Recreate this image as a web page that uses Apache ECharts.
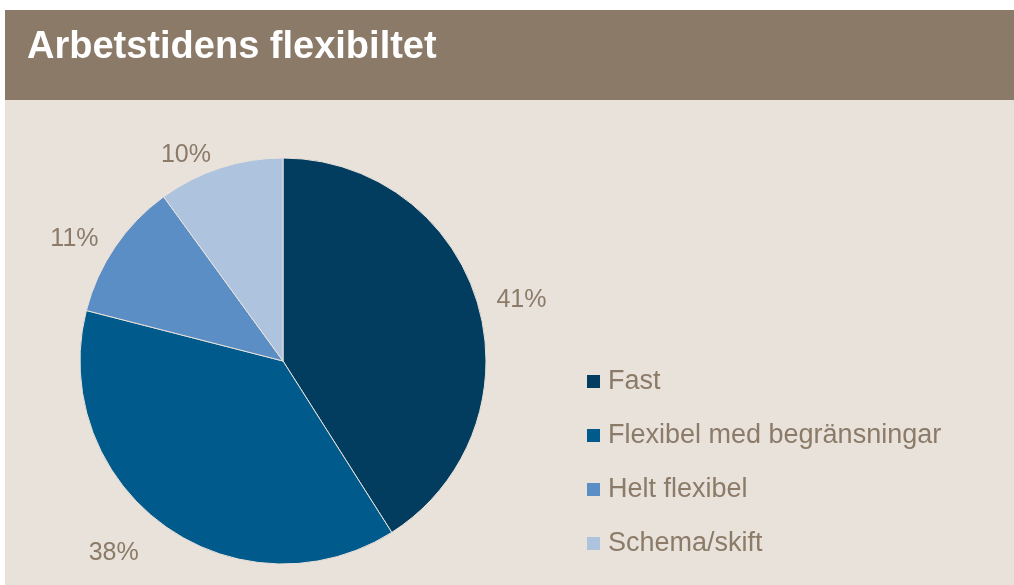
<!DOCTYPE html>
<html>
<head>
<meta http-equiv="Content-Type" content="text/html; charset=utf-8" />
<title>Arbetstidens flexibiltet</title>
<script src="https://cdn.jsdelivr.net/npm/echarts@6/dist/echarts.min.js"></script>
<style>
  html, body { margin: 0; padding: 0; background: #ffffff; }
  #chart { width: 1014px; height: 585px; }
</style>
</head>
<body>
<div id="chart"></div>
<script>
  // data
  var categories = ['Fast', 'Flexibel med begränsningar', 'Helt flexibel', 'Schema/skift'];
  var shares = [41, 38, 11, 10];
  var sliceColors = ['#023C5E', '#005A8C', '#5A8EC4', '#AEC4DE'];

  var textColor = '#8B7B68';

  var pieData = categories.map(function(name, i) {
    var item = { name: name, value: shares[i], itemStyle: { color: sliceColors[i] } };
    // the bottom label sits a bit further out in the original
    if (i === 1) {
      item.labelLine = { show: false, length: 34, length2: 0 };
    }
    return item;
  });

  var myChart = echarts.init(document.getElementById('chart'));

  var option = {
    animation: false,
    backgroundColor: '#ffffff',
    textStyle: { fontFamily: 'Liberation Sans, Arial, sans-serif' },
    graphic: [
      // beige panel
      { type: 'rect', left: 5, top: 100, z: -10, shape: { width: 1009, height: 485 }, style: { fill: '#E9E2DB' } },
      // header bar
      { type: 'rect', left: 5, top: 10, z: -10, shape: { width: 1009, height: 90 }, style: { fill: '#8A7A67' } }
    ],
    title: {
      text: 'Arbetstidens flexibiltet',
      left: 22,
      top: 24,
      textStyle: {
        color: '#ffffff',
        fontSize: 38,
        fontWeight: 'bold',
        fontFamily: 'Liberation Sans, Arial, sans-serif'
      }
    },
    legend: {
      orient: 'vertical',
      left: 580,
      top: 363,
      icon: 'rect',
      itemWidth: 15,
      itemHeight: 15,
      itemGap: 27,
      selectedMode: false,
      data: categories,
      textStyle: {
        color: textColor,
        fontSize: 27,
        lineHeight: 27,
        padding: [0, 0, 0, 2]
      }
    },
    series: [
      {
        type: 'pie',
        center: [283, 361],
        radius: 203,
        startAngle: 90,
        clockwise: true,
        silent: true,
        avoidLabelOverlap: false,
        itemStyle: { borderColor: '#E9E2DB', borderWidth: 1 },
        label: {
          show: true,
          position: 'outside',
          formatter: '{c}%',
          color: textColor,
          fontSize: 25,
          distanceToLabelLine: 5
        },
        labelLine: { show: false, length: 14, length2: 0 },
        data: pieData
      }
    ]
  };

  myChart.setOption(option);
</script>
</body>
</html>
